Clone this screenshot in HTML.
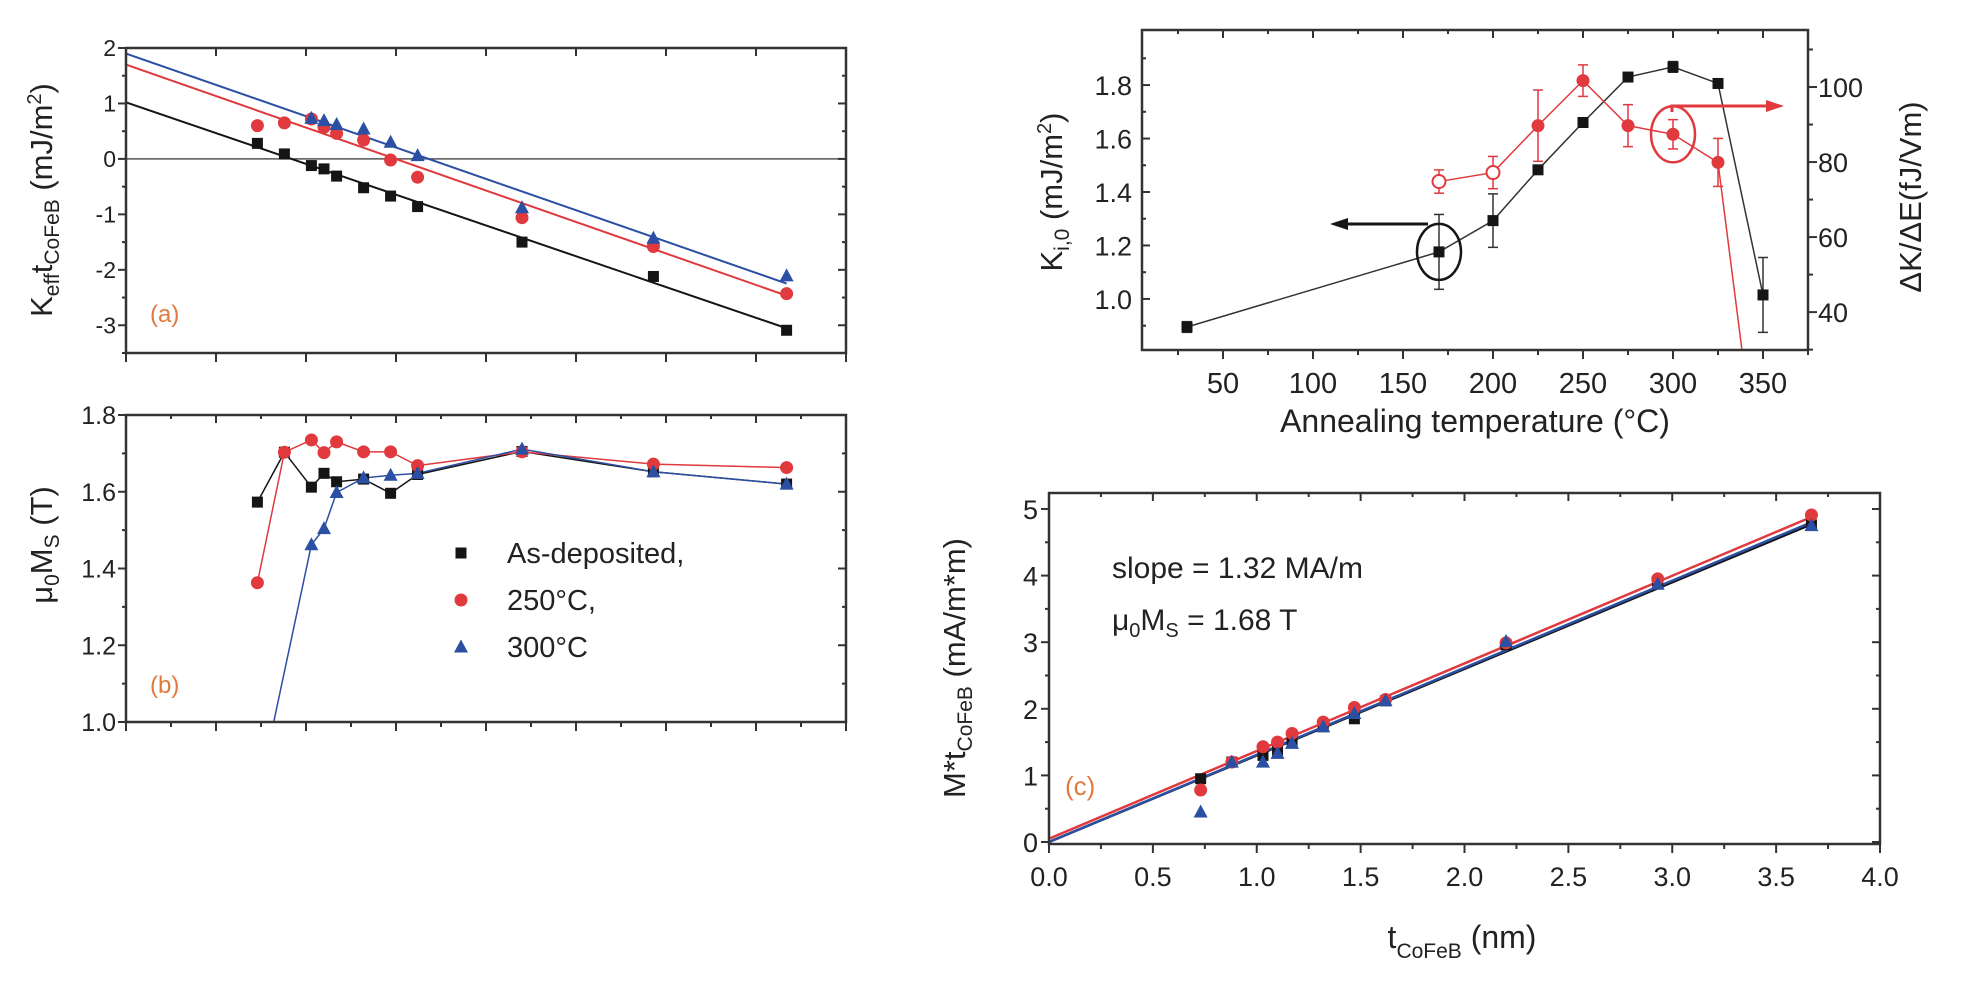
<!DOCTYPE html>
<html><head><meta charset="utf-8"><style>
html,body{margin:0;padding:0;background:#fff;}
svg{display:block;font-family:"Liberation Sans",Arial,sans-serif;}
</style></head><body>
<svg id="fig" width="1969" height="1004" viewBox="0 0 1969 1004" xmlns="http://www.w3.org/2000/svg">
<defs>
<clipPath id="clipA"><rect x="126" y="48" width="720" height="305"/></clipPath>
<clipPath id="clipB"><rect x="126" y="415" width="720" height="307"/></clipPath>
<clipPath id="clipK"><rect x="1142" y="30" width="666" height="320"/></clipPath>
<clipPath id="clipC"><rect x="1049" y="493" width="831" height="351"/></clipPath>
</defs>
<g id="layer"></g>
</svg>
<script>
// ---------- shared thickness data ----------
const thick = [0.73,0.88,1.03,1.10,1.17,1.32,1.47,1.62,2.20,2.93,3.67];
// panel (a): Keff*t
const aBlack = [0.28,0.09,-0.12,-0.18,-0.31,-0.52,-0.67,-0.86,-1.50,-2.12,-3.09];
const aRed   = [0.60,0.65,0.72,0.57,0.46,0.34,-0.02,-0.33,-1.06,-1.58,-2.43];
const aBlueX = [1.03,1.10,1.17,1.32,1.47,1.62,2.20,2.93,3.67];
const aBlue  = [0.73,0.69,0.62,0.54,0.30,0.06,-0.88,-1.43,-2.11];
const aFitIntercept = [1.02,1.70,1.90];
const aFitSlope = [-1.11,-1.135,-1.13];
// panel (b): mu0 Ms
const bBlack = [1.573,1.703,1.612,1.648,1.626,1.633,1.596,1.645,1.705,1.652,1.620];
const bRed   = [1.363,1.703,1.735,1.702,1.730,1.704,1.704,1.668,1.704,1.672,1.663];
const bBlueX = [0.73,1.03,1.10,1.17,1.32,1.47,1.62,2.20,2.93,3.67];
const bBlue  = [0.80,1.462,1.504,1.598,1.636,1.643,1.648,1.711,1.652,1.620];
// panel K: anneal temperature
const kTemp = [30,170,200,225,250,275,300,325,350];
const kVal  = [0.895,1.176,1.293,1.483,1.660,1.830,1.868,1.806,1.015];
const kErr  = [0.02,0.14,0.10,0.01,0.01,0.01,0.02,0.01,0.14];
const rTemp = [170,200,225,250,275,300,325,350];
const rVal  = [74.8,77.2,89.7,101.7,89.7,87.4,79.9,-14];
const rErr  = [3.1,4.3,9.5,4.2,5.6,3.9,6.4,0];
const rOpen = [true,true,false,false,false,false,false,false];
// panel (c): M*t
const cBlack = [0.95,1.20,1.30,1.38,1.50,1.73,1.85,2.12,2.96,3.89,4.76];
const cRed   = [0.78,1.20,1.43,1.50,1.63,1.80,2.02,2.14,2.99,3.95,4.91];
const cBlue  = [0.45,1.20,1.20,1.33,1.48,1.73,1.93,2.12,3.01,3.87,4.75];
const cFitIntercept = [0.0,0.05,0.0];
const cFitSlope = [1.30,1.316,1.308];
const kXTicks = [50,100,150,200,250,300,350];
const kYTicks = [1.0,1.2,1.4,1.6,1.8];
const kRTicks = [40,60,80,100];
const cXTicks = [0,0.5,1,1.5,2,2.5,3,3.5,4];
const cYTicks = [0,1,2,3,4,5];
const aYTicks = [2,1,0,-1,-2,-3];
const bYTicks = [1.0,1.2,1.4,1.6,1.8];

const NS="http://www.w3.org/2000/svg";
const L=document.getElementById('layer');
const BLK='#151515', RED='#e0393e', BLU='#2a4fa3', ORG='#e07a3c';
function mk(tag,attrs,parent){const e=document.createElementNS(NS,tag);for(const k in attrs)e.setAttribute(k,attrs[k]);(parent||L).appendChild(e);return e;}
function lin(d0,d1,r0,r1){return v=>r0+(v-d0)*(r1-r0)/(d1-d0);}

const A={x:lin(0,4,126,846),y:lin(2,-3.5,48,353)};
const B={x:lin(0,4,126,846),y:lin(1.8,1.0,415,722)};
const K={x:lin(5,375,1142,1808),y:lin(2.006,0.809,30,350),yr:lin(115.2,29.9,30,350)};
const C={x:lin(0,4,1049,1880),y:lin(5.24,-0.03,493,844)};

function txt(x,y,s,size,anchor,name,extra){const t=mk('text',Object.assign({x:x,y:y,'font-size':size,'text-anchor':anchor||'middle',fill:'#222'},extra||{}));t.textContent=s;return t;}
function line(x1,y1,x2,y2,st,w,g){return mk('line',{x1:x1,y1:y1,x2:x2,y2:y2,stroke:st,'stroke-width':w},g);}
function frame(x0,y0,x1,y1,name){const r=mk('rect',{x:x0,y:y0,width:x1-x0,height:y1-y0,fill:'none',stroke:'#333','stroke-width':2.5});}
function marker(g,type,x,y,col,name,open){let e;
 if(type==='s'){e=mk('rect',{x:x-5.5,y:y-5.5,width:11,height:11,fill:col},g);}
 else if(type==='c'){e=mk('circle',{cx:x,cy:y,r:6.5,fill:open?'#fff':col,stroke:col,'stroke-width':open?2:0},g);}
 else {e=mk('polygon',{points:`${x},${y-7.5} ${x-7},${y+5.5} ${x+7},${y+5.5}`,fill:col},g);}
 return e;}
function poly(g,xs,ys,P,col,w,name){const pts=xs.map((v,i)=>P.x(v)+','+P.y(ys[i])).join(' ');const e=mk('polyline',{points:pts,fill:'none',stroke:col,'stroke-width':w},g);return e;}

// ===== Panel A =====
const gA=mk('g',{'clip-path':'url(#clipA)'});


line(126,A.y(0),846,A.y(0),'#555',1.5,gA);
const fitColsA=[BLK,RED,BLU];
fitColsA.forEach((c,i)=>{const e=line(A.x(0),A.y(aFitIntercept[i]),A.x(3.67),A.y(aFitIntercept[i]+aFitSlope[i]*3.67),c,2,gA);});
thick.forEach((t,i)=>marker(gA,'s',A.x(t),A.y(aBlack[i]),BLK,'a-black-point'));
thick.forEach((t,i)=>marker(gA,'c',A.x(t),A.y(aRed[i]),RED,'a-red-point'));
aBlueX.forEach((t,i)=>marker(gA,'t',A.x(t),A.y(aBlue[i]),BLU,'a-blue-point'));
frame(126,48,846,353,'panel-a-frame');
for(let v=0;v<=4.001;v+=0.5){const x=A.x(v);line(x,48,x,56,'#333',2);line(x,353,x,362,'#333',2);}
for(let v=2;v>=-3.5;v-=0.5){const y=A.y(v);const maj=Math.abs(v-Math.round(v))<1e-6;line(126-(maj?8:4),y,126,y,'#333',2);line(846,y,846-(maj?8:4),y,'#333',2);}
aYTicks.forEach(v=>txt(116,A.y(v)+8,String(v),23,'end','a-y-tick-label'));
{const t=txt(0,0,'',31,'middle','a-y-axis-title',{transform:'translate(52,200) rotate(-90)'});t.innerHTML='K<tspan font-size="21" dy="7">eff</tspan><tspan dy="-7">t</tspan><tspan font-size="21" dy="7">CoFeB</tspan><tspan dy="-7"> (mJ/m</tspan><tspan font-size="20" dy="-11">2</tspan><tspan dy="11">)</tspan>';}
txt(150,322,'(a)',24,'start','panel-a-label',{fill:ORG});

// ===== Panel B =====
const gB=mk('g',{'clip-path':'url(#clipB)'});


poly(gB,thick,bBlack,B,BLK,1.5,'b-black-line');
poly(gB,thick,bRed,B,RED,1.5,'b-red-line');
poly(gB,bBlueX,bBlue,B,BLU,1.5,'b-blue-line');
thick.forEach((t,i)=>marker(gB,'s',B.x(t),B.y(bBlack[i]),BLK,'b-black-point'));
thick.forEach((t,i)=>marker(gB,'c',B.x(t),B.y(bRed[i]),RED,'b-red-point'));
bBlueX.forEach((t,i)=>marker(gB,'t',B.x(t),B.y(bBlue[i]),BLU,'b-blue-point'));
frame(126,415,846,722,'panel-b-frame');
for(let v=0;v<=4.001;v+=0.25){const x=B.x(v);const maj=Math.abs(v*2-Math.round(v*2))<1e-6;line(x,415,x,415+(maj?8:4),'#333',2);line(x,722,x,722+(maj?9:5),'#333',2);}
for(let v=1.0;v<=1.801;v+=0.1){const y=B.y(v);const maj=Math.round(v*10)%2===0;line(126-(maj?8:4),y,126,y,'#333',2);line(846,y,846-(maj?8:4),y,'#333',2);}
bYTicks.forEach(v=>txt(116,B.y(v)+9,v.toFixed(1),25,'end','b-y-tick-label'));
{const t=txt(0,0,'',31,'middle','b-y-axis-title',{transform:'translate(52,545) rotate(-90)'});t.innerHTML='μ<tspan font-size="21" dy="7">0</tspan><tspan dy="-7">M</tspan><tspan font-size="21" dy="7">S</tspan><tspan dy="-7"> (T)</tspan>';}
txt(150,693,'(b)',24,'start','panel-b-label',{fill:ORG});
const lg=mk('g',{});


marker(lg,'s',461,553,BLK,'legend-marker-as-deposited');
marker(lg,'c',461,600,RED,'legend-marker-250');
marker(lg,'t',461,647,BLU,'legend-marker-300');
txt(507,563,'As-deposited,',29,'start','legend-entry-as-deposited');
txt(507,610,'250°C,',29,'start','legend-entry-250');
txt(507,657,'300°C',29,'start','legend-entry-300');

// ===== Panel K =====
const gK=mk('g',{'clip-path':'url(#clipK)'});


{const e=mk('polyline',{points:kTemp.map((t,i)=>K.x(t)+','+K.y(kVal[i])).join(' '),fill:'none',stroke:'#333','stroke-width':1.5},gK);}
{const e=mk('polyline',{points:rTemp.map((t,i)=>K.x(t)+','+K.yr(rVal[i])).join(' '),fill:'none',stroke:RED,'stroke-width':1.5},gK);}
kTemp.forEach((t,i)=>{const x=K.x(t),y1=K.y(kVal[i]+kErr[i]),y2=K.y(kVal[i]-kErr[i]);line(x,y1,x,y2,'#333',1.5,gK);line(x-5,y1,x+5,y1,'#333',1.5,gK);line(x-5,y2,x+5,y2,'#333',1.5,gK);});
rTemp.forEach((t,i)=>{if(!rErr[i])return;const x=K.x(t),y1=K.yr(rVal[i]+rErr[i]),y2=K.yr(rVal[i]-rErr[i]);line(x,y1,x,y2,RED,1.5,gK);line(x-5,y1,x+5,y1,RED,1.5,gK);line(x-5,y2,x+5,y2,RED,1.5,gK);});
kTemp.forEach((t,i)=>marker(gK,'s',K.x(t),K.y(kVal[i]),BLK,'ki-point'));
rTemp.forEach((t,i)=>marker(gK,'c',K.x(t),K.yr(rVal[i]),RED,'dk-de-point',rOpen[i]));
frame(1142,30,1808,350,'anneal-frame');
for(let v=25;v<=375;v+=25){const x=K.x(v);const maj=v%50===0;line(x,30,x,30+(maj?8:4),'#333',2);line(x,350,x,350+(maj?9:5),'#333',2);}
for(let v=0.9;v<=2.0;v+=0.1){const y=K.y(v);const maj=Math.round(v*10)%2===0;line(1142,y,1142+(maj?8:4),y,'#333',2);}
for(let v=30;v<=110;v+=10){const y=K.yr(v);const maj=v%20===0;line(1808,y,1808+(maj?9:5),y,'#333',2);}
kXTicks.forEach(v=>txt(K.x(v),393,String(v),29,'middle','anneal-x-tick-label'));
kYTicks.forEach(v=>txt(1132,K.y(v)+10,v.toFixed(1),27,'end','ki-y-tick-label'));
kRTicks.forEach(v=>txt(1818,K.yr(v)+10,String(v),27,'start','dk-de-y-tick-label'));
txt(1475,432,'Annealing temperature (°C)',32,'middle','anneal-x-axis-title');
{const t=txt(0,0,'',31,'middle','ki-y-axis-title',{transform:'translate(1062,192) rotate(-90)'});t.innerHTML='K<tspan font-size="21" dy="7">i,0</tspan><tspan dy="-7">  (mJ/m</tspan><tspan font-size="20" dy="-11">2</tspan><tspan dy="11">)</tspan>';}
txt(0,0,'ΔK/ΔE(fJ/Vm)',31,'middle','dk-de-y-axis-title',{transform:'translate(1921,197) rotate(-90)'});
// annotations
{const e=mk('ellipse',{cx:K.x(170),cy:K.y(1.176),rx:22,ry:28,fill:'none',stroke:BLK,'stroke-width':2.5});}
{const e=mk('path',{d:'M1428,224 L1345,224',fill:'none',stroke:BLK,'stroke-width':3});
 mk('polygon',{points:'1330,224 1348,218 1348,230',fill:BLK});}
{const e=mk('ellipse',{cx:K.x(300),cy:K.yr(87.4),rx:22,ry:28,fill:'none',stroke:RED,'stroke-width':2.5});}
{const e=mk('path',{d:'M1672,112 L1672,106 L1770,106',fill:'none',stroke:RED,'stroke-width':3});
 mk('polygon',{points:'1784,106 1766,100 1766,112',fill:RED});}

// ===== Panel C =====
const gC=mk('g',{'clip-path':'url(#clipC)'});


[[RED,1],[BLK,0],[BLU,2]].forEach(([c,i])=>{const e=line(C.x(0),C.y(cFitIntercept[i]),C.x(3.67),C.y(cFitIntercept[i]+cFitSlope[i]*3.67),c,2.5,gC);});
thick.forEach((t,i)=>marker(gC,'s',C.x(t),C.y(cBlack[i]),BLK,'c-black-point'));
thick.forEach((t,i)=>marker(gC,'c',C.x(t),C.y(cRed[i]),RED,'c-red-point'));
thick.forEach((t,i)=>marker(gC,'t',C.x(t),C.y(cBlue[i]),BLU,'c-blue-point'));
frame(1049,493,1880,844,'panel-c-frame');
for(let v=0;v<=4.001;v+=0.25){const x=C.x(v);const maj=Math.abs(v*2-Math.round(v*2))<1e-6;line(x,493,x,493+(maj?8:4),'#333',2);line(x,844,x,844+(maj?9:5),'#333',2);}
for(let v=0;v<=5.001;v+=0.5){const y=C.y(v);const maj=Math.abs(v-Math.round(v))<1e-6;line(1049-(maj?8:4),y,1049,y,'#333',2);line(1880,y,1880-(maj?8:4),y,'#333',2);}
cXTicks.forEach(v=>txt(C.x(v),886,v.toFixed(1),27,'middle','c-x-tick-label'));
cYTicks.forEach(v=>txt(1038,C.y(v)+10,String(v),27,'end','c-y-tick-label'));
{const t=txt(1462,948,'',32,'middle','c-x-axis-title');t.innerHTML='t<tspan font-size="21" dy="10">CoFeB</tspan><tspan dy="-10"> (nm)</tspan>';}
{const t=txt(0,0,'',31,'middle','c-y-axis-title',{transform:'translate(965,668) rotate(-90)'});t.innerHTML='M*t<tspan font-size="21" dy="7">CoFeB</tspan><tspan dy="-7">  (mA/m*m)</tspan>';}
txt(1112,578,'slope = 1.32 MA/m',30,'start','slope-annotation');
{const t=txt(1112,630,'',30,'start','ms-annotation');t.innerHTML='μ<tspan font-size="20" dy="7">0</tspan><tspan dy="-7">M</tspan><tspan font-size="20" dy="7">S</tspan><tspan dy="-7"> = 1.68 T</tspan>';}
txt(1065,795,'(c)',26,'start','panel-c-label',{fill:ORG});
</script>
</body></html>
